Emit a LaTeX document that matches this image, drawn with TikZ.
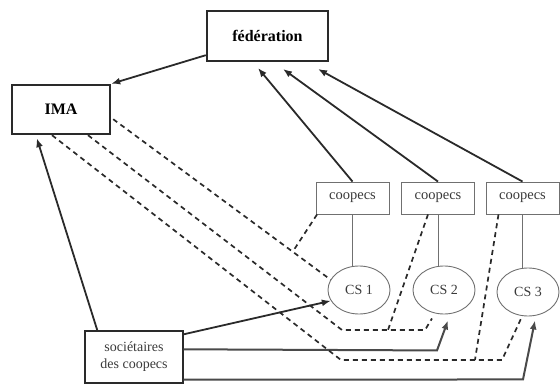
\documentclass[tikz,border=0pt]{standalone}
\usepackage{fontspec}
\setmainfont{Liberation Serif}
\usetikzlibrary{arrows.meta,shapes.geometric,calc}
\definecolor{ink}{HTML}{2A2A2A}
\definecolor{soft}{HTML}{707070}
\definecolor{txt}{HTML}{3A3A3A}
\begin{document}
\begin{tikzpicture}[x=1pt,y=-1pt,
  bigbox/.style={draw=ink,line width=2.4pt,inner sep=0pt,font=\fontsize{16}{18}\selectfont\bfseries},
  coopbox/.style={draw=soft,line width=0.9pt,inner sep=0pt,minimum width=73pt,minimum height=32pt,
                  text=txt,font=\fontsize{14.5}{17}\selectfont},
  csnode/.style={ellipse,draw=soft,line width=0.9pt,inner sep=0pt,minimum width=62pt,minimum height=48pt,
                 text=txt,font=\fontsize{14}{17}\selectfont},
  socbox/.style={draw=ink,line width=1.4pt,inner sep=0pt,minimum width=98pt,minimum height=52pt,
                 align=center,text=txt,font=\fontsize{14}{17}\selectfont},
  arr/.style={draw=ink,line width=1.8pt,-{Latex[length=9pt,width=7pt]}},
  link/.style={draw=soft,line width=1pt},
  flow/.style={draw=ink!85,line width=2pt,-{Latex[length=9pt,width=7pt]}},
  dashlink/.style={draw=ink,line width=1.7pt,dash pattern=on 5pt off 4pt}
]
\useasboundingbox (0,0) rectangle (560,385);

% boxes
\node[bigbox,minimum width=121pt,minimum height=50pt] (fed) at (267.5,36) {fédération};
\node[bigbox,minimum width=98pt,minimum height=49pt] (ima) at (61,109.5) {IMA};
\node[coopbox] (coop1) at (352.5,198) {coopecs};
\node[coopbox] (coop2) at (438,198) {coopecs};
\node[coopbox] (coop3) at (522.5,198) {coopecs};
\node[csnode] (cs1) at (359,290) {CS 1};
\node[csnode] (cs2) at (444,290) {CS 2};
\node[csnode] (cs3) at (528,292) {CS 3};
\node[socbox] (soc) at (134,357) {sociétaires\\des coopecs};

% arrow ends below the federation box
\coordinate (t1) at (258,68);
\coordinate (t2) at (283,69);
\coordinate (t3) at (318,69);

% federation to IMA
\draw[arr] ($(fed.south west)+(0,-7)$) -- (ima.north east);

% coopecs to federation
\draw[arr] (coop1.north) -- (t1);
\draw[arr] (coop2.north) -- (t2);
\draw[arr] (coop3.north) -- (t3);

% coopecs to their CS
\draw[link] (coop1.south) -- (coop1.south |- cs1.north);
\draw[link] (coop2.south) -- (coop2.south |- cs2.north);
\draw[link] (coop3.south) -- (coop3.south |- cs3.north);

% sociétaires to IMA and to the CS
\draw[arr] ($(soc.north west)+(13,0)$) -- ($(ima.south west)+(26,3)$);
\draw[arr] ($(soc.north east)+(0,4)$) -- (cs1.201);
\draw[flow] ($(soc.north east)+(0,19)$) -- ($(cs2.south)+(-7,36)$) -- ($(cs2.south)+(4,6)$);
\draw[flow] ($(soc.south east)+(0,-4)$) -- ($(cs3.south)+(-5,63)$) -- ($(cs3.south)+(7,4)$);

% dashed links from IMA
\coordinate (a0) at ($(ima.south east)+(2,-16)$);
\coordinate (b0) at ($(ima.south)+(27,0)$);
\coordinate (c0) at ($(ima.south)+(-9,0)$);
\coordinate (b1) at (342,330);
\coordinate (b2) at (425,330);
\coordinate (c1) at (341,360);
\coordinate (c2) at (502,360);

\draw[dashlink] (a0) -- (cs1.160);
\draw[dashlink] (b0) -- (b1) -- (b2) -- ($(cs2.south)+(-12,4)$);
\draw[dashlink] (c0) -- (c1) -- (c2) -- ($(cs3.south)+(-6,0)$);

% dashed links from the coopecs
\coordinate (j1) at ($(a0)!0.826!(cs1.160)$);
\coordinate (j2) at ($(b1)!0.554!(b2)$);
\coordinate (j3) at ($(c1)!0.832!(c2)$);
\draw[dashlink] ($(coop1.south west)+(1.5,0)$) -- (j1);
\draw[dashlink] ($(coop2.south)+(-10,0)$) -- (j2);
\draw[dashlink] ($(coop3.south)+(-24,0)$) -- (j3);
\end{tikzpicture}
\end{document}
